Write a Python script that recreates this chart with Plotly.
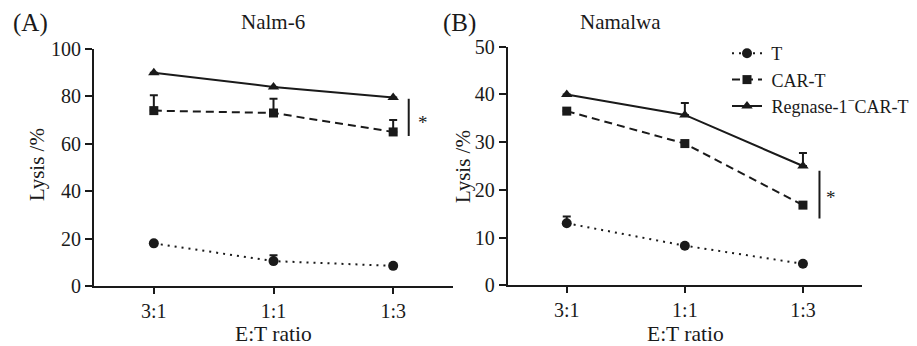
import plotly.graph_objects as go

# ---- data ----
ratios = ["3:1", "1:1", "1:3"]
series_names = [" T", " CAR-T", " Regnase-1<sup>−</sup>CAR-T"]

nalm6_T = [18, 10.5, 8.5]
nalm6_T_err = [0, 2.5, 0]
nalm6_CAR = [74, 73, 65]
nalm6_CAR_err = [6.5, 6, 5]
nalm6_Reg = [90, 84, 79.5]
nalm6_Reg_err = [0, 0, 0]

namalwa_T = [13, 8.3, 4.5]
namalwa_T_err = [1.4, 0, 0]
namalwa_CAR = [36.5, 29.7, 16.8]
namalwa_CAR_err = [0, 0, 0]
namalwa_Reg = [40, 35.7, 25]
namalwa_Reg_err = [0, 2.5, 2.7]

# significance bars (y from, y to) beside the last ratio
sig_A = [79, 63.3]
sig_B = [24, 14]

panel_titles = ["Nalm-6", "Namalwa"]
panel_labels = ["(A)", "(B)"]

FONT = "Liberation Serif"
INK = "#1a1a1a"

# page offset (browser body margin) compensation
OX, OY = 8, 8
W, H = 917 - OX, 346 - OY


def px_x(p):
    return (p - OX) / W


def px_y(p):
    return 1 - (p - OY) / H


styles = [
    dict(dash="2px,5px", symbol="circle", size=10),
    dict(dash="8px,5px", symbol="square", size=9),
    dict(dash="solid", symbol="triangle-up", size=10),
]

fig = go.Figure()

panels = [
    ("x", "y", [nalm6_T, nalm6_CAR, nalm6_Reg], [nalm6_T_err, nalm6_CAR_err, nalm6_Reg_err], False),
    ("x2", "y2", [namalwa_T, namalwa_CAR, namalwa_Reg], [namalwa_T_err, namalwa_CAR_err, namalwa_Reg_err], True),
]

for xa, ya, vals, errs, show in panels:
    for name, v, e, st in zip(series_names, vals, errs, styles):
        fig.add_trace(go.Scatter(
            x=ratios, y=v, name=name, xaxis=xa, yaxis=ya,
            mode="lines+markers", showlegend=show,
            line=dict(color=INK, width=2, dash=st["dash"]),
            marker=dict(color=INK, symbol=st["symbol"], size=st["size"]),
            error_y=dict(type="data", symmetric=False, array=e,
                         arrayminus=[0] * len(e), color=INK, thickness=2, width=4),
            cliponaxis=False,
        ))

# significance markers
fig.add_shape(type="line", xref="x", yref="y", x0=2.13, x1=2.13, y0=sig_A[0], y1=sig_A[1],
              line=dict(color=INK, width=2))
fig.add_shape(type="line", xref="x2", yref="y2", x0=2.14, x1=2.14, y0=sig_B[0], y1=sig_B[1],
              line=dict(color=INK, width=2))
fig.add_annotation(x=2.25, y=(sig_A[0] + sig_A[1]) / 2 - 2, xref="x", yref="y", text="*",
                   showarrow=False, xanchor="center", yanchor="middle",
                   font=dict(family=FONT, size=19, color=INK))
fig.add_annotation(x=2.24, y=(sig_B[0] + sig_B[1]) / 2 - 0.7, xref="x2", yref="y2", text="*",
                   showarrow=False, xanchor="center", yanchor="middle",
                   font=dict(family=FONT, size=19, color=INK))

dom_xA = [px_x(94), px_x(453)]
dom_yA = [px_y(286), px_y(49)]
dom_xB = [px_x(507.7), px_x(862)]
dom_yB = [px_y(285.3), px_y(46.7)]

axis_common = dict(showline=True, linecolor=INK, linewidth=2, ticks="outside",
                   tickcolor=INK, tickwidth=2, showgrid=False, zeroline=False,
                   tickfont=dict(family=FONT, size=20, color=INK), fixedrange=True)

fig.update_layout(
    width=W, height=H,
    margin=dict(l=0, r=0, t=0, b=0, autoexpand=False),
    paper_bgcolor="white", plot_bgcolor="white",
    font=dict(family=FONT, color=INK),
    xaxis=dict(domain=dom_xA, anchor="y", range=[-0.5, 2.5], ticklen=6, **axis_common),
    yaxis=dict(domain=dom_yA, anchor="x", range=[0, 100], tickvals=[0, 20, 40, 60, 80, 100],
               ticklen=7, **axis_common),
    xaxis2=dict(domain=dom_xB, anchor="y2", range=[-0.5, 2.5], ticklen=6, **axis_common),
    yaxis2=dict(domain=dom_yB, anchor="x2", range=[0, 50], tickvals=[0, 10, 20, 30, 40, 50],
                ticklen=7, **axis_common),
    legend=dict(x=px_x(727), y=px_y(35), xanchor="left", yanchor="top", bgcolor="rgba(0,0,0,0)",
                font=dict(family=FONT, size=18, color=INK), itemwidth=30,
                tracegroupgap=0),
)

# panel labels, titles and axis titles
for lab, p in zip(panel_labels, [30, 459]):
    fig.add_annotation(x=px_x(p), y=px_y(23), xref="paper", yref="paper", text=lab,
                       showarrow=False, xanchor="center", yanchor="middle",
                       font=dict(family=FONT, size=25, color=INK))
for t, p in zip(panel_titles, [273, 620]):
    fig.add_annotation(x=px_x(p), y=px_y(22), xref="paper", yref="paper", text=t,
                       showarrow=False, xanchor="center", yanchor="middle",
                       font=dict(family=FONT, size=21, color=INK))
for p in [273, 685]:
    fig.add_annotation(x=px_x(p), y=px_y(334), xref="paper", yref="paper", text="E:T ratio",
                       showarrow=False, xanchor="center", yanchor="middle",
                       font=dict(family=FONT, size=21.5, color=INK))
for p, q in [(37, 165), (463, 167)]:
    fig.add_annotation(x=px_x(p), y=px_y(q), xref="paper", yref="paper", text="Lysis /%",
                       textangle=-90, showarrow=False, xanchor="center", yanchor="middle",
                       font=dict(family=FONT, size=21, color=INK))

fig.write_html("out.html")
